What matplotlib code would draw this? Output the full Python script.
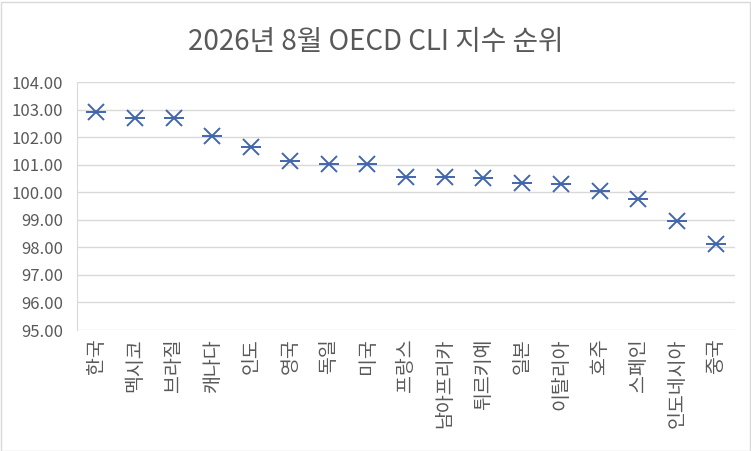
import matplotlib
matplotlib.use("Agg")
import matplotlib.pyplot as plt
from matplotlib.patches import Rectangle

plt.rcParams["font.family"] = ["Noto Sans CJK KR", "DejaVu Sans"]

countries = ["한국", "멕시코", "브라질", "캐나다", "인도", "영국", "독일", "미국", "프랑스",
             "남아프리카", "튀르키예", "일본", "이탈리아", "호주", "스페인", "인도네시아", "중국"]
cli = [102.92, 102.70, 102.69, 102.05, 101.65, 101.15, 101.04, 101.01, 100.54,
       100.54, 100.51, 100.34, 100.30, 100.06, 99.76, 98.95, 98.13]
yticks = [95, 96, 97, 98, 99, 100, 101, 102, 103, 104]

blue = "#4266ac"
gray = "#595959"

fig = plt.figure(figsize=(7.51, 4.51), dpi=100)
ax = fig.add_axes([77 / 751, 1 - 330 / 451, (735 - 77) / 751, (330 - 82) / 451])

xs = list(range(len(countries)))
ax.plot(xs, cli, linestyle="none", marker="x", markersize=11, markeredgewidth=1.4, color=blue)
ax.plot(xs, cli, linestyle="none", marker="_", markersize=15, markeredgewidth=1.4, color=blue)

ax.set_xlim(-0.5, len(countries) - 0.5)
ax.set_ylim(95, 104)
ax.set_yticks(yticks)
ax.set_yticklabels([f"{v:.2f}" for v in yticks], fontsize=12, color=gray)
ax.set_xticks(xs)
ax.set_xticklabels(countries, rotation=90, fontsize=14, color=gray, va="top", ha="center")
ax.tick_params(length=0, pad=6)
ax.tick_params(axis="y", pad=10)

ax.grid(axis="y", color="#d9d9d9", linewidth=1)
ax.set_axisbelow(True)
for side in ["top", "right", "bottom"]:
    ax.spines[side].set_visible(False)
ax.spines["left"].set_color("#d9d9d9")

fig.text(0.5, 1 - 42 / 451, "2026년 8월 OECD CLI 지수 순위", ha="center", va="center",
         fontsize=20, color=gray)

fig.patches.append(Rectangle((0.5 / 751, 0.5 / 451), 749 / 751, 449 / 451, transform=fig.transFigure,
                             fill=False, edgecolor="#d9d9d9", linewidth=1))

fig.savefig("out.png", dpi=100)
